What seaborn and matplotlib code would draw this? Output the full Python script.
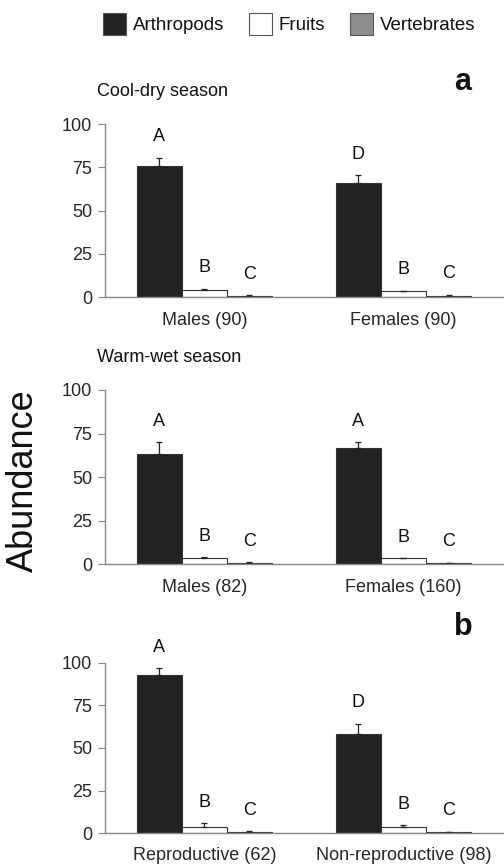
import numpy as np
import pandas as pd
import seaborn as sns
import matplotlib.pyplot as plt
from matplotlib.patches import Patch

# data
foods = ['Arthropods', 'Fruits', 'Vertebrates']

cool_groups = ['Males (90)', 'Females (90)']
cool_mean = [[76, 66], [4.2, 3.2], [0.7, 0.8]]     # rows = food, cols = group
cool_err = [[4.5, 4.5], [0.7, 0.5], [0.3, 0.6]]
cool_letters = [['A', 'D'], ['B', 'B'], ['C', 'C']]

warm_groups = ['Males (82)', 'Females (160)']
warm_mean = [[63.5, 66.8], [3.2, 3.2], [0.5, 0.5]]
warm_err = [[6.7, 3.4], [0.8, 0.3], [0.5, 0.2]]
warm_letters = [['A', 'A'], ['B', 'B'], ['C', 'C']]

repro_groups = ['Reproductive (62)', 'Non-reproductive (98)']
repro_mean = [[93, 58], [3.3, 3.5], [0.5, 0.5]]
repro_err = [[4, 6.3], [2.3, 1.0], [0.5, 0.3]]
repro_letters = [['A', 'D'], ['B', 'B'], ['C', 'C']]

colors = {'Arthropods': '#222222', 'Fruits': '#ffffff', 'Vertebrates': '#8c8c8c'}

sns.set_style('white')
plt.rcParams['font.family'] = ['Liberation Sans', 'DejaVu Sans']
plt.rcParams['text.color'] = '#111111'

fig = plt.figure(figsize=(5.04, 8.68), dpi=100)
H = 868.0


def panel(rect, groups, means, errs, letters, pad=11):
    ax = fig.add_axes(rect)
    rows = []
    for i, f in enumerate(foods):
        for j, g in enumerate(groups):
            rows.append({'group': g, 'food': f, 'value': means[i][j]})
    df = pd.DataFrame(rows)
    sns.barplot(data=df, x='group', y='value', hue='food', order=groups,
                hue_order=foods, palette=colors, saturation=1, width=0.68,
                edgecolor='#333333', linewidth=0.8, errorbar=None,
                legend=False, ax=ax)
    bar_conts = list(ax.containers)
    for i, cont in enumerate(bar_conts):
        for j, bar in enumerate(cont.patches):
            xc = bar.get_x() + bar.get_width() / 2
            top = bar.get_height()
            e = errs[i][j]
            ax.errorbar(xc, top, yerr=[[0], [e]], fmt='none', ecolor='#222222',
                        elinewidth=0.9, capsize=2.5, capthick=0.9)
            ax.annotate(letters[i][j], (xc, top + e), xytext=(0, 15),
                        textcoords='offset points', ha='center', va='center',
                        fontsize=13)
    ax.set_xlim(-0.5, 1.5)
    ax.set_ylim(0, 100)
    ax.set_yticks([0, 25, 50, 75, 100])
    ax.set_xlabel('')
    ax.set_ylabel('')
    ax.set_xticks([0, 1])
    ax.set_xticklabels(groups)
    ax.set_xticks([-0.5, 0.5, 1.5], minor=True)
    ax.tick_params(axis='x', which='major', length=0, labelsize=13, pad=pad)
    ax.tick_params(axis='x', which='minor', length=5, width=0.8, color='#888888', direction='out')
    ax.tick_params(axis='y', length=5, width=0.8, color='#888888', labelsize=13,
                   direction='out', left=True, pad=4)
    for s in ['top', 'right']:
        ax.spines[s].set_visible(False)
    for s in ['left', 'bottom']:
        ax.spines[s].set_color('#888888')
        ax.spines[s].set_linewidth(1.0)
    return ax


panel([0.208, 0.6578, 0.79, 0.1993], cool_groups, cool_mean, cool_err, cool_letters)
panel([0.208, 0.3502, 0.79, 0.2005], warm_groups, warm_mean, warm_err, warm_letters)
panel([0.208, 0.0403, 0.79, 0.1959], repro_groups, repro_mean, repro_err, repro_letters, pad=10)

fig.text(97 / 504, 1 - 91 / H, 'Cool-dry season', fontsize=13, ha='left', va='center')
fig.text(97 / 504, 1 - 357 / H, 'Warm-wet season', fontsize=13, ha='left', va='center')
fig.text(463 / 504, 1 - 82 / H, 'a', fontsize=22, fontweight='bold', ha='center', va='center')
fig.text(463 / 504, 1 - 627 / H, 'b', fontsize=22, fontweight='bold', ha='center', va='center')
fig.text(23 / 504, 1 - 481 / H, 'Abundance', fontsize=26, rotation=90, ha='center', va='center')

handles = [Patch(facecolor=colors[f], edgecolor='#555555', linewidth=0.8) for f in foods]
fig.legend(handles, foods, loc='center', bbox_to_anchor=(289 / 504, 1 - 24 / H), ncol=3,
           frameon=False, fontsize=13.5, handlelength=1.25, handleheight=1.35,
           handletextpad=0.35, columnspacing=1.3)

fig.savefig('out.png', dpi=100)
